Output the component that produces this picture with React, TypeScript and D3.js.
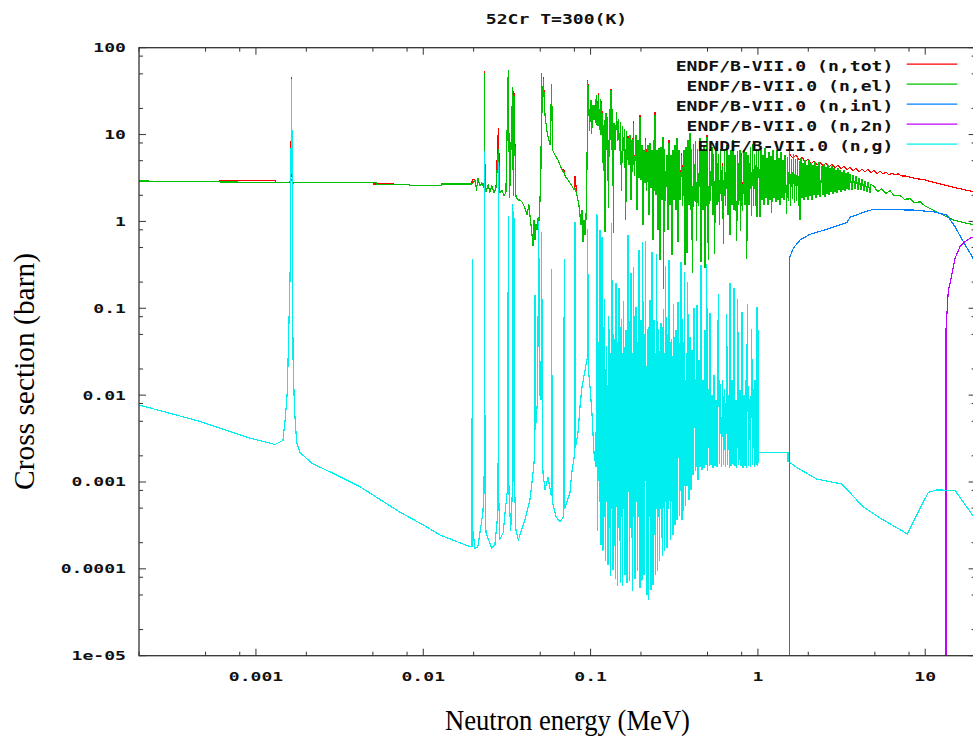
import React from "react";
import * as d3 from "d3";

type P = [number, number];

// ---------- axis / legend text ----------
const titleText = "52Cr T=300(K)";
const xTitle = "Neutron energy (MeV)";
const yTitle = "Cross section (barn)";
const xTickValues = [0.001, 0.01, 0.1, 1, 10];
const xTickLabels = ["0.001", "0.01", "0.1", "1", "10"];
const yTickValues = [100, 10, 1, 0.1, 0.01, 0.001, 0.0001, 0.00001];
const yTickLabels = ["100", "10", "1", "0.1", "0.01", "0.001", "0.0001", "1e-05"];
const minorMultipliers = [2, 5, 8];
const legendLabels = [
  "ENDF/B-VII.0 (n,tot)",
  "ENDF/B-VII.0 (n,el)",
  "ENDF/B-VII.0 (n,inl)",
  "ENDF/B-VII.0 (n,2n)",
  "ENDF/B-VII.0 (n,g)",
];
const seriesColors = ["#ff0000", "#00c000", "#0080ff", "#c000ff", "#00eeee"];

// ---------- (n,tot) ----------
const totLow: P[] = [
  [2e-4, 2.9], [6.0e-4, 2.9], [6.05e-4, 2.98], [1.3e-3, 2.98], [1.32e-3, 2.8], [1.58e-3, 2.8],
  [1.615e-3, 3.0], [1.635e-3, 45], [1.645e-3, 3.0], [1.66e-3, 2.8], [1.7e-3, 2.8],
  [5.0e-3, 2.79], [5.05e-3, 2.7], [8.3e-3, 2.68], [8.35e-3, 2.58], [1.285e-2, 2.58], [1.29e-2, 2.7],
  [1.95e-2, 2.7],
];
const totPeakE = [0.01963, 0.0232, 0.0281, 0.0342, 0.0348, 0.0522, 0.0696, 0.0807, 0.0961, 0.1112,
  0.1165, 0.1324, 0.1673, 0.18, 0.1974, 0.2135, 0.2427, 0.2941, 0.3504, 0.4963, 0.6161, 0.7958];
const totPeakS = [3.05, 52.5, 11.6, 35, 31, 45, 3.9, 3.33, 42, 30,
  24, 33.5, 9.6, 14, 16.8, 9.0, 18, 8.5, 6.0, 9.9, 4.6, 6.0];
const totHigh: P[] = [
  [1.555, 5.82], [1.621, 5.37], [1.689, 5.82], [1.76, 5.1], [1.835, 5.51], [1.912, 4.83], [1.993, 5.23],
  [2.077, 4.58], [2.164, 4.96], [2.256, 4.46], [2.351, 4.83], [2.45, 4.35], [2.553, 4.7], [2.661, 4.23],
  [2.773, 4.58], [2.89, 4.12], [3.012, 4.46], [3.139, 4.01], [3.271, 4.35], [3.41, 3.91], [3.552, 4.23],
  [3.703, 3.81], [3.859, 4.12], [4.021, 3.71], [4.191, 4.01], [4.368, 3.71], [4.552, 4.01], [4.744, 3.61],
  [4.943, 3.91], [5.151, 3.52], [5.37, 3.81], [5.6, 3.52], [5.83, 3.71], [6.08, 3.42], [6.33, 3.61],
  [6.6, 3.42], [6.88, 3.52], [7.26, 3.33], [7.68, 3.33], [8.46, 3.16], [9.97, 3.0], [12.28, 2.7],
  [15.4, 2.42], [20, 2.18],
];

// ---------- (n,el) ----------
const elLow: P[] = [
  [2e-4, 2.92], [1.0e-3, 2.82], [1.55e-3, 2.79], [1.61e-3, 2.9], [1.635e-3, 3.05], [1.66e-3, 2.7],
  [1.7e-3, 2.79], [5.25e-3, 2.79], [5.27e-3, 2.68], [8.3e-3, 2.68], [8.35e-3, 2.58], [1.285e-2, 2.58],
  [1.29e-2, 2.7], [1.95e-2, 2.7],
];
const elMid: P[] = [
  [0.01963, 2.7], [0.0204, 3.0], [0.0208, 2.3], [0.0212, 3.15], [0.0218, 2.56], [0.0224, 2.77], [0.0231, 2.42],
  [0.0232, 51], [0.0234, 2.3], [0.0237, 2.18], [0.0244, 2.63], [0.025, 2.18], [0.0257, 2.56], [0.0265, 2.13],
  [0.0272, 2.42], [0.0281, 6.64], [0.0287, 2.13], [0.0295, 2.3], [0.0304, 1.96], [0.0312, 2.18], [0.0322, 55],
  [0.0328, 1.87], [0.0342, 34.4], [0.0345, 2.0], [0.0348, 28.5], [0.0358, 1.91], [0.0368, 1.76], [0.0379, 1.76],
  [0.0389, 1.67], [0.0405, 1.43], [0.0417, 1.185], [0.0428, 1.55], [0.044, 0.922], [0.0453, 0.528],
  [0.0459, 1.04], [0.0465, 0.611], [0.0472, 0.922], [0.0478, 0.796], [0.0485, 1.095], [0.0491, 1.0],
  [0.0498, 1.67], [0.0505, 4.12], [0.051, 49.8], [0.0516, 18.2], [0.0522, 42.5], [0.0534, 16.8],
  [0.0549, 10.7], [0.0572, 7.58], [0.0585, 37.2], [0.0592, 6.64], [0.0613, 5.82], [0.0638, 5.1],
  [0.0656, 4.46], [0.0675, 3.91], [0.0696, 3.61], [0.0703, 3.33], [0.0733, 3.0], [0.0753, 2.77],
  [0.0774, 2.56], [0.0796, 2.3], [0.0807, 2.42], [0.0829, 2.01], [0.0852, 1.55], [0.0864, 1.185],
  [0.0876, 0.922], [0.0888, 1.35], [0.0901, 0.587], [0.0914, 1.04], [0.0926, 0.707], [0.0939, 1.095],
  [0.0952, 4.46], [0.0961, 40.3], [0.0972, 28.5], [0.0985, 11.3], [0.1006, 25.0], [0.1015, 10.4],
  [0.1034, 21.9], [0.1048, 14.7], [0.107, 25.0], [0.108, 12.9], [0.1088, 28.5], [0.11, 12.9],
  [0.1112, 28.5], [0.1126, 11.3], [0.1146, 25.0], [0.1154, 9.9], [0.1165, 22.5], [0.1191, 3.91],
  [0.1206, 14.7], [0.1219, 0.755], [0.1236, 17.7], [0.1253, 6.64], [0.1265, 15.5], [0.1276, 1.465],
  [0.1297, 19.2], [0.1311, 8.66], [0.1324, 32.0], [0.1342, 6.64], [0.1357, 19.2], [0.1367, 0.755],
  [0.138, 13.6], [0.1399, 6.64], [0.1432, 17.7], [0.1448, 8.66], [0.1468, 14.7], [0.1488, 6.64],
  [0.1509, 13.6], [0.153, 2.3], [0.1551, 12.2], [0.1573, 6.64], [0.1599, 11.3], [0.1621, 1.04],
  [0.1646, 10.7], [0.1657, 5.1], [0.1673, 9.13], [0.1696, 4.46], [0.172, 9.9], [0.1744, 1.76],
  [0.1768, 8.66], [0.1785, 3.71], [0.18, 13.2], [0.1825, 3.42], [0.1868, 9.9], [0.1894, 1.35],
  [0.192, 8.66], [0.1947, 3.16], [0.1974, 15.9], [0.2001, 3.0], [0.2029, 7.58], [0.2057, 0.922],
  [0.2086, 6.64], [0.2114, 2.77], [0.2135, 8.43], [0.2164, 2.3], [0.2203, 7.58], [0.2234, 1.185],
  [0.2265, 8.0], [0.2296, 2.42], [0.2328, 6.64], [0.236, 0.611], [0.2393, 8.66], [0.241, 2.3],
  [0.2427, 16.8], [0.246, 2.01], [0.2494, 6.64], [0.2529, 0.796], [0.2564, 7.0], [0.26, 0.36],
  [0.2635, 7.19], [0.2672, 1.76], [0.2709, 9.37], [0.2728, 0.171], [0.2765, 6.64], [0.2803, 1.76],
  [0.2862, 5.82], [0.2901, 0.796], [0.2941, 8.0], [0.2983, 1.545], [0.3024, 5.82], [0.3065, 0.41],
  [0.3109, 6.64], [0.3152, 1.76], [0.3196, 7.58], [0.324, 1.35], [0.3284, 9.13], [0.333, 0.587],
  [0.3377, 6.64], [0.3422, 1.76], [0.3504, 5.51], [0.3552, 1.545], [0.3617, 6.64], [0.3667, 0.315],
  [0.3718, 7.19], [0.377, 0.433], [0.3822, 8.66], [0.3875, 1.545], [0.3928, 10.4], [0.3981, 1.35],
  [0.4015, 6.64], [0.4054, 0.255], [0.4121, 7.58], [0.4178, 1.76], [0.4236, 8.21], [0.4295, 0.611],
  [0.4355, 6.64], [0.4416, 1.545], [0.4508, 9.13], [0.457, 0.341], [0.4634, 6.64], [0.4697, 1.35],
  [0.4762, 7.58], [0.4828, 0.291], [0.4896, 6.64], [0.4922, 1.545], [0.4963, 9.37], [0.5052, 0.36],
  [0.5137, 6.64], [0.5208, 1.76], [0.5317, 7.19], [0.539, 1.185], [0.5443, 5.82], [0.5503, 0.433],
  [0.5618, 8.0], [0.5694, 1.545], [0.5799, 5.82], [0.5895, 0.922], [0.5977, 6.64], [0.606, 1.76],
  [0.6161, 4.23], [0.621, 0.564], [0.6315, 6.64], [0.6403, 1.545], [0.6537, 7.58], [0.6627, 1.185],
  [0.672, 5.82], [0.6811, 0.707], [0.6906, 6.64], [0.7, 1.545], [0.71, 8.66], [0.7195, 1.35],
  [0.7296, 5.82], [0.7469, 0.611], [0.7571, 6.3], [0.769, 1.545], [0.7816, 6.64], [0.7893, 0.796],
  [0.7958, 5.51], [0.809, 1.35], [0.8259, 6.64], [0.8375, 1.545], [0.849, 6.3], [0.857, 0.379],
  [0.8727, 5.82], [0.8849, 1.545], [0.903, 7.0], [0.9156, 1.185], [0.9284, 7.58], [0.9413, 1.545],
  [0.957, 5.82], [0.97, 1.545], [0.978, 6.64], [0.9877, 1.124], [1.008, 6.64],
  [1.029, 1.124], [1.0436, 6.64], [1.058, 1.76], [1.073, 5.82], [1.088, 1.545], [1.103, 7.0], [1.118, 1.86],
  [1.133, 5.37], [1.149, 1.545], [1.165, 6.3], [1.181, 1.76], [1.198, 5.66], [1.209, 1.28], [1.231, 6.64],
  [1.248, 1.86], [1.266, 5.1], [1.283, 1.67], [1.3, 6.64], [1.318, 1.76], [1.337, 5.37], [1.355, 1.545],
  [1.374, 6.3], [1.393, 1.86], [1.412, 5.1], [1.432, 1.76], [1.452, 5.82], [1.486, 1.25], [1.503, 5.37],
  [1.524, 1.76], [1.545, 6.3], [1.566, 1.545], [1.588, 5.1], [1.61, 1.86], [1.632, 5.82], [1.655, 1.67],
  [1.678, 5.1], [1.701, 1.76], [1.725, 5.37], [1.749, 1.545], [1.773, 4.83], [1.785, 1.04], [1.81, 5.37],
  [1.835, 1.86], [1.86, 4.7], [1.886, 1.76], [1.912, 5.1], [1.939, 1.91], [1.966, 4.46], [1.993, 1.76],
  [2.02, 5.1], [2.048, 1.96], [2.077, 4.7], [2.106, 1.76], [2.135, 4.46], [2.164, 2.01], [2.194, 4.83],
  [2.225, 1.86], [2.256, 4.35], [2.287, 2.01], [2.319, 4.83], [2.351, 1.91], [2.416, 4.35], [2.45, 2.01],
  [2.484, 4.58], [2.518, 1.91], [2.553, 4.23], [2.589, 2.07], [2.625, 4.46], [2.661, 2.01], [2.698, 4.12],
  [2.735, 2.18], [2.773, 4.35], [2.812, 2.07], [2.851, 4.12], [2.89, 2.18], [2.93, 3.91], [2.971, 2.12],
  [3.012, 4.12], [3.054, 2.3], [3.096, 3.91], [3.139, 2.18], [3.182, 3.71], [3.226, 2.3], [3.271, 3.91],
  [3.317, 2.24], [3.363, 3.61], [3.41, 2.36], [3.457, 3.71], [3.504, 2.3], [3.552, 3.52], [3.652, 2.3],
  [3.703, 3.42], [3.806, 2.36], [3.859, 3.33], [3.966, 2.3], [4.021, 3.16], [4.133, 2.3], [4.191, 3.08],
  [4.307, 2.24], [4.368, 2.92], [4.49, 2.18], [4.552, 2.84], [4.68, 2.12], [4.744, 2.7],
];
const elHigh: P[] = [
  [5.0, 2.45], [5.2, 2.2], [5.5, 2.38], [5.8, 2.1], [6.16, 2.25], [6.5, 2.0], [7.07, 2.0], [7.5, 1.8],
  [8.12, 1.82], [8.6, 1.65], [9.31, 1.68], [10.0, 1.5], [11.18, 1.35], [13.44, 1.13], [14.72, 1.04],
  [17.7, 0.95], [20, 0.91],
];

// ---------- (n,inl) ----------
const inl: P[] = [
  [1.5405, 1e-8], [1.541, 0.376], [1.627, 0.49], [1.785, 0.611], [2.048, 0.711], [2.577, 0.811],
  [3.395, 0.967], [3.552, 1.116], [4.266, 1.27], [4.896, 1.38], [8.49, 1.35], [11.18, 1.29],
  [13.44, 1.19], [15.07, 0.87], [16.9, 0.584], [18.97, 0.4], [20, 0.33],
];

// ---------- (n,2n) ----------
const n2n: P[] = [
  [13.3, 1e-8], [13.31, 0.0562], [13.74, 0.162], [14.21, 0.212], [15.07, 0.376], [16.14, 0.512],
  [17.3, 0.584], [18.53, 0.64], [20, 0.68],
];

// ---------- (n,g) ----------
const capLow: P[] = [
  [2.0e-4, 0.0077], [4.6e-4, 0.005], [9.2e-4, 0.0032], [1.3e-3, 0.0027], [1.45e-3, 0.003], [1.5e-3, 0.0056],
  [1.54e-3, 0.011], [1.6e-3, 0.25], [1.635e-3, 43], [1.665e-3, 0.028], [1.7e-3, 0.0067], [1.75e-3, 0.0029],
  [1.83e-3, 0.0022], [2.15e-3, 0.00165], [3.04e-3, 0.0012], [4.19e-3, 0.00088], [5.36e-3, 0.00065],
  [7.25e-3, 0.00045], [1.0e-2, 0.00032], [1.26e-2, 0.000245], [1.9e-2, 0.00018],
];
const capMid: P[] = [
  [0.01955, 0.00018], [0.01963, 0.36], [0.0197, 0.0003], [0.0204, 0.00017], [0.0212, 0.00018],
  [0.0227, 0.00044], [0.0231, 0.0008], [0.0232, 6.3], [0.0234, 0.0008], [0.0237, 0.00026],
  [0.0256, 0.000174], [0.0268, 0.00019], [0.0277, 0.00037], [0.028, 0.0006], [0.0281, 4.7],
  [0.0283, 0.0006], [0.0287, 0.00022], [0.03, 0.00026], [0.0315, 0.00067], [0.032, 0.0009],
  [0.0322, 1.15], [0.0325, 0.0008], [0.0333, 0.00028], [0.034, 0.0007], [0.0342, 1.55], [0.0345, 0.001],
  [0.0348, 1.3], [0.0352, 0.0008], [0.0358, 0.00028], [0.037, 0.000215], [0.0405, 0.000365],
  [0.0434, 0.00062], [0.0453, 0.00127], [0.0463, 0.002], [0.0465, 0.142], [0.0468, 0.004],
  [0.0482, 0.0088], [0.049, 1.0], [0.0495, 0.0106], [0.0505, 0.0088], [0.051, 0.735], [0.0515, 0.005],
  [0.0519, 0.0013], [0.0534, 0.00081], [0.0556, 0.00114], [0.0582, 0.0007], [0.0585, 0.276],
  [0.059, 0.0006], [0.0621, 0.0004], [0.0656, 0.000346], [0.069, 0.0004], [0.0696, 0.36], [0.07, 0.0005],
  [0.0753, 0.00075], [0.0771, 0.00127], [0.08, 0.002], [0.0807, 0.98], [0.0812, 0.0025], [0.0841, 0.0037],
  [0.0864, 0.0073], [0.0888, 0.0124], [0.0955, 0.0268], [0.0961, 0.8], [0.097, 0.02], [0.0992, 0.0124],
  [0.1019, 0.0062], [0.1048, 0.00216], [0.1077, 0.0015],
];
const capDense: P[] = [
  [0.1092, 1.19], [0.11, 0.00028], [0.1113, 0.04], [0.1126, 0.0006],
  [0.1138, 0.796], [0.1154, 0.000188], [0.1159, 0.03], [0.1165, 0.0005],
  [0.117, 0.662], [0.1186, 0.000164], [0.1194, 0.06], [0.1203, 0.0004],
  [0.1211, 0.1245], [0.1228, 0.000126], [0.1235, 0.02], [0.1241, 0.0006],
  [0.1248, 0.0358], [0.127, 0.000111], [0.1279, 0.08], [0.1288, 0.0003],
  [0.1297, 0.0562], [0.1315, 8.5e-5], [0.1322, 0.03], [0.133, 0.0005],
  [0.1337, 0.934], [0.1361, 9.7e-5], [0.1371, 0.05], [0.138, 0.0004],
  [0.139, 0.0432], [0.1403, 7.8e-5], [0.1408, 0.02], [0.1414, 0.0006],
  [0.1419, 0.195], [0.1448, 6.5e-5], [0.1458, 0.04], [0.1468, 0.0003],
  [0.1478, 0.171], [0.1505, 6.9e-5], [0.1513, 0.06], [0.1522, 0.0004],
  [0.153, 0.0733], [0.1551, 6.5e-5], [0.156, 0.03], [0.1568, 0.0005],
  [0.1577, 0.118], [0.1606, 8.5e-5], [0.1613, 0.05], [0.162, 0.0003],
  [0.1627, 0.0562], [0.165, 6.9e-5], [0.1658, 0.04], [0.1665, 0.0004],
  [0.1673, 0.698], [0.1708, 7.4e-5], [0.172, 0.07], [0.1732, 0.0003],
  [0.1744, 0.255], [0.1776, 5.7e-5], [0.1787, 0.03], [0.1798, 0.0004],
  [0.181, 0.291], [0.1843, 7.8e-5], [0.1851, 0.05], [0.186, 0.0003],
  [0.1868, 0.1034], [0.1907, 9.7e-5], [0.192, 0.04], [0.1933, 0.0004],
  [0.1947, 0.469], [0.1974, 6.0e-5], [0.1983, 0.06], [0.1992, 0.0003],
  [0.2001, 0.0733], [0.2029, 7.4e-5], [0.2035, 0.03], [0.2041, 0.0004],
  [0.2048, 0.564], [0.2086, 8.5e-5], [0.2098, 0.05], [0.211, 0.0003],
  [0.2123, 0.58], [0.2174, 5.0e-5], [0.218, 0.02], [0.2187, 0.0003],
  [0.2194, 0.0562], [0.2219, 4.4e-5], [0.2234, 0.06], [0.225, 0.0004],
  [0.2265, 0.1245], [0.2296, 5.7e-5], [0.2307, 0.04], [0.2317, 0.0003],
  [0.2328, 0.445], [0.236, 6.5e-5], [0.2371, 0.05], [0.2382, 0.0004],
  [0.2393, 0.0733], [0.2437, 8.5e-5], [0.2453, 0.03], [0.2468, 0.0005],
  [0.2484, 0.41], [0.2518, 9.7e-5], [0.2527, 0.05], [0.2537, 0.0004],
  [0.2546, 0.0562], [0.2588, 0.000126], [0.2604, 0.04], [0.2619, 0.0005],
  [0.2635, 0.0676], [0.2679, 0.000144], [0.2693, 0.06], [0.2706, 0.0005],
  [0.272, 0.0955], [0.2765, 0.000164], [0.278, 0.03], [0.2795, 0.0006],
  [0.281, 0.299], [0.2862, 0.000174], [0.2888, 0.05], [0.2914, 0.0005],
  [0.2941, 0.36], [0.2995, 0.000215], [0.3016, 0.04], [0.3037, 0.0006],
  [0.3058, 0.0432], [0.3109, 0.000245], [0.3119, 0.03], [0.3129, 0.0006],
  [0.3139, 0.109], [0.3196, 0.000319], [0.3211, 0.05], [0.3225, 0.0007],
  [0.324, 0.0562], [0.3284, 0.000365], [0.3299, 0.03], [0.3315, 0.0007],
  [0.333, 0.118], [0.34, 0.000417], [0.3423, 0.04], [0.3447, 0.0008],
  [0.347, 0.341], [0.3518, 0.000365], [0.3529, 0.03], [0.3541, 0.0008],
  [0.3552, 0.0733], [0.3593, 0.000476], [0.3606, 0.04], [0.362, 0.0009],
  [0.3633, 0.255], [0.3692, 0.000543], [0.373, 0.03], [0.3768, 0.0009],
  [0.3806, 0.2], [0.3875, 0.00062], [0.3893, 0.02], [0.391, 0.001],
  [0.3928, 0.0467], [0.3981, 0.00081], [0.4, 0.03], [0.4018, 0.0012],
  [0.4037, 0.0331], [0.4093, 0.0012], [0.4112, 0.02], [0.4131, 0.0014],
  [0.415, 0.1], [0.4236, 0.00137], [0.4265, 0.015], [0.4295, 0.0015],
  [0.4325, 0.109], [0.4385, 0.00105], [0.4405, 0.012], [0.4425, 0.0015],
  [0.4446, 0.0254], [0.4508, 0.00149], [0.457, 0.315], [0.4634, 0.00137], [0.4697, 0.0149], [0.4762, 0.00145],
  [0.4828, 0.0562], [0.4896, 0.00157], [0.4943, 0.315], [0.501, 0.00137], [0.5067, 0.0115], [0.5123, 0.00153],
  [0.5173, 0.0882], [0.5244, 0.00157], [0.5317, 0.01], [0.539, 0.00145], [0.5466, 0.017], [0.5541, 0.00153],
  [0.5618, 0.0088], [0.5694, 0.00149], [0.5799, 0.142], [0.5895, 0.00165], [0.5977, 0.0131], [0.606, 0.00153],
  [0.6161, 0.0149], [0.6247, 0.0016], [0.6333, 0.0115], [0.642, 0.00149], [0.6509, 0.0836], [0.66, 0.00157],
  [0.6673, 0.01], [0.6746, 0.00145], [0.6811, 0.195], [0.6906, 0.00153], [0.7, 0.0149], [0.71, 0.0016],
  [0.7195, 0.171], [0.7296, 0.00153], [0.7396, 0.0088], [0.748, 0.00145], [0.7571, 0.1245], [0.769, 0.00157],
  [0.7816, 0.0115], [0.7925, 0.00153], [0.8035, 0.0906], [0.8147, 0.00145], [0.8259, 0.01], [0.8375, 0.00153],
  [0.8455, 0.0149], [0.855, 0.00149], [0.8643, 0.109], [0.8786, 0.00157], [0.8908, 0.0088], [0.903, 0.00153],
  [0.918, 0.0562], [0.931, 0.0016], [0.9413, 0.0115], [0.9517, 0.00149], [0.961, 0.0149], [0.974, 0.00157],
  [0.9877, 0.1034], [0.996, 0.00153], [1.0024, 0.0562], [1.0066, 0.0017],
];
const capHigh: P[] = [
  [1.007, 0.00218], [1.513, 0.00218], [1.514, 0.00173], [1.706, 0.00147], [2.246, 0.00108], [3.169, 0.00095],
  [4.25, 0.00052], [5.37, 0.000385], [7.82, 0.000252], [10.43, 0.00076], [11.72, 0.00081], [15.07, 0.0008],
  [19.1, 0.00042], [20, 0.00038],
];

// ---------- layout ----------
const W = 973;
const H = 738;
const X0 = 139;
const X1 = 975.6;
const Y0 = 47.7;
const Y1 = 655.7;
const MONO = "'DejaVu Sans Mono', monospace";
const CHAR_W = 10.88;

export default function App() {
  const xs = d3.scaleLog().domain([2e-4, 20]).range([X0, X1]);
  const ys = d3.scaleLog().domain([1e-5, 100]).range([Y1, Y0]);
  const line = d3.line<P>().x((d) => xs(d[0])).y((d) => ys(d[1]));

  const peakMap = new Map<number, number>(totPeakE.map((e, i) => [e, totPeakS[i]]));
  const tot: P[] = [
    ...totLow,
    ...elMid.filter((p) => p[0] < 1.55).map(([e, s]) => [e, peakMap.get(e) ?? s] as P),
    ...totHigh,
  ];
  const el: P[] = [...elLow, ...elMid, ...elHigh];
  const cap: P[] = [...capLow, ...capMid, ...capDense, ...capHigh];
  const series: P[][] = [tot, el, inl, n2n, cap];

  const minorX: number[] = [];
  for (let dec = -4; dec <= 1; dec++)
    for (const m of minorMultipliers) {
      const v = m * Math.pow(10, dec);
      if (v >= 2e-4 && v <= 20) minorX.push(v);
    }
  const minorY: number[] = [];
  for (let dec = -5; dec <= 1; dec++)
    for (const m of minorMultipliers) {
      const v = m * Math.pow(10, dec);
      if (v >= 1e-5 && v <= 100) minorY.push(v);
    }

  const tickStroke = "#333";
  const tickEls: JSX.Element[] = [];
  const addX = (v: number, len: number, k: string) => {
    const x = xs(v);
    tickEls.push(<line key={"xb" + k} x1={x} x2={x} y1={Y1} y2={Y1 - len} stroke={tickStroke} strokeWidth={1} />);
    tickEls.push(<line key={"xt" + k} x1={x} x2={x} y1={Y0} y2={Y0 + len} stroke={tickStroke} strokeWidth={1} />);
  };
  const addY = (v: number, len: number, k: string) => {
    const y = ys(v);
    tickEls.push(<line key={"yl" + k} x1={X0} x2={X0 + len} y1={y} y2={y} stroke={tickStroke} strokeWidth={1} />);
    tickEls.push(<line key={"yr" + k} x1={X1} x2={X1 - len} y1={y} y2={y} stroke={tickStroke} strokeWidth={1} />);
  };
  xTickValues.forEach((v, i) => addX(v, 7, "M" + i));
  minorX.forEach((v, i) => addX(v, 4, "m" + i));
  yTickValues.forEach((v, i) => addY(v, 7, "M" + i));
  minorY.forEach((v, i) => addY(v, 4, "m" + i));

  const legendBase = [70.7, 90.7, 110.7, 130.7, 150.7];

  return (
    <svg width={W} height={H} style={{ position: "absolute", left: 0, top: 0, background: "#fff" }}>
      <rect x={0} y={0} width={W} height={H} fill="#fff" />
      <defs>
        <clipPath id="plotClip">
          <rect x={X0} y={Y0} width={X1 - X0} height={Y1 - Y0} />
        </clipPath>
      </defs>
      <g clipPath="url(#plotClip)">
        {series.map((s, i) => (
          <path key={i} d={line(s) || ""} fill="none" stroke={seriesColors[i]} strokeWidth={1.2}
            strokeLinejoin="round" shapeRendering="crispEdges" />
        ))}
      </g>
      <rect x={X0} y={Y0} width={X1 - X0} height={Y1 - Y0} fill="none" stroke="#333" strokeWidth={1.3} />
      {tickEls}
      {xTickValues.map((v, i) => (
        <text key={"xl" + i} x={xs(v)} y={681} textAnchor="middle" fontFamily={MONO} fontWeight="bold" fontSize={12.5}
          textLength={xTickLabels[i].length * CHAR_W} lengthAdjust="spacingAndGlyphs" fill="#111">
          {xTickLabels[i]}
        </text>
      ))}
      {yTickValues.map((v, i) => (
        <text key={"yl" + i} x={126} y={ys(v) + 4.5} textAnchor="end" fontFamily={MONO} fontWeight="bold" fontSize={12.5}
          textLength={yTickLabels[i].length * CHAR_W} lengthAdjust="spacingAndGlyphs" fill="#111">
          {yTickLabels[i]}
        </text>
      ))}
      <text x={556.5} y={24} textAnchor="middle" fontFamily={MONO} fontWeight="bold" fontSize={14}
        textLength={titleText.length * CHAR_W} lengthAdjust="spacingAndGlyphs" fill="#111">
        {titleText}
      </text>
      <text x={567.5} y={730} textAnchor="middle" fontFamily="'Liberation Serif', 'DejaVu Serif', serif" fontSize={30}
        textLength={245} lengthAdjust="spacingAndGlyphs" fill="#000">
        {xTitle}
      </text>
      <text transform="translate(33.5,371.5) rotate(-90)" textAnchor="middle"
        fontFamily="'Liberation Serif', 'DejaVu Serif', serif" fontSize={30} textLength={237}
        lengthAdjust="spacingAndGlyphs" fill="#000">
        {yTitle}
      </text>
      {legendLabels.map((lab, i) => (
        <g key={"lg" + i}>
          <text x={893.3} y={legendBase[i]} textAnchor="end" fontFamily={MONO} fontWeight="bold" fontSize={14}
            textLength={lab.length * CHAR_W} lengthAdjust="spacingAndGlyphs" fill="#111">
            {lab}
          </text>
          <line x1={906.7} x2={957.3} y1={legendBase[i] - 6.5} y2={legendBase[i] - 6.5} stroke={seriesColors[i]} strokeWidth={1.3} />
        </g>
      ))}
    </svg>
  );
}
